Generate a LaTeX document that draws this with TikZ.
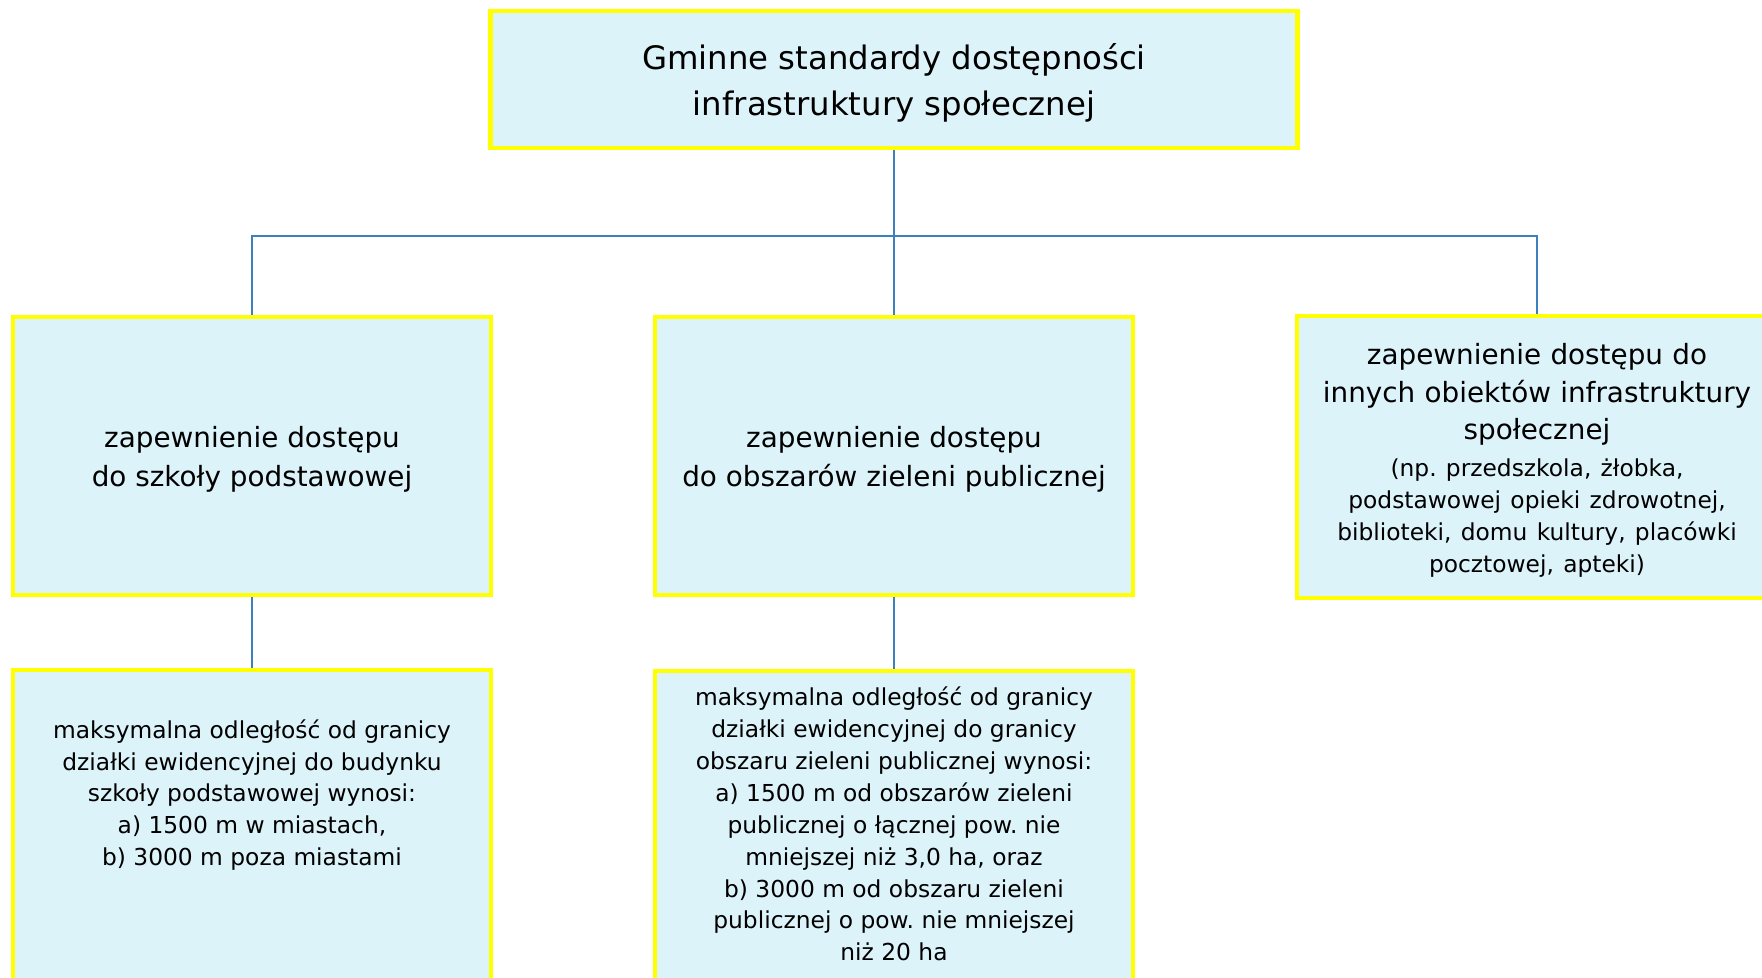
\documentclass[tikz,border=0pt]{standalone}
\usepackage{fontspec}
\setmainfont{DejaVu Sans}
\usetikzlibrary{positioning}
\definecolor{boxfill}{RGB}{221,243,250}
\definecolor{boxline}{RGB}{255,255,0}
\definecolor{linkblue}{RGB}{60,128,192}
\newcommand{\bigfont}{\fontsize{23}{32.9}\selectfont}
\newcommand{\midfont}{\fontsize{19.8}{27.7}\selectfont}
\newcommand{\smallfont}{\fontsize{16.6}{22.7}\selectfont}
\newcommand{\topstrut}[1]{\rule{0pt}{#1}}
\frenchspacing

\begin{document}
\begin{tikzpicture}[x=0.025cm, y=-0.025cm,
  box/.style={draw=boxline, line width=3.4pt, fill=boxfill, align=center, inner sep=0pt},
  link/.style={draw=linkblue, line width=1.4pt}]
  \clip (0,0) rectangle (1762,978);
  \fill[white] (0,0) rectangle (1762,978);

  \node[box, minimum width=20.175cm, minimum height=3.425cm, font=\bigfont] (gminne) at (894,79.5) {\topstrut{23.4pt}Gminne standardy dostępności\\ infrastruktury społecznej};

  \node[box, minimum width=11.95cm, minimum height=6.95cm, font=\midfont] (szkola) at (252,456) {\topstrut{20pt}zapewnienie dostępu\\ do szkoły podstawowej};
  \node[box, minimum width=11.95cm, minimum height=6.95cm, font=\midfont] (zielen) at (894,456) {\topstrut{20pt}zapewnienie dostępu\\ do obszarów zieleni publicznej};
  \node[box, minimum width=12cm, minimum height=7.05cm, text width=11cm, font=\fontsize{19.8}{26.8}\selectfont] (inne) at (1537,457) {\topstrut{20pt}zapewnienie dostępu do\\ innych obiektów infrastruktury\\ społecznej\par\vspace{3.6pt}
    \smallfont (np. przedszkola, żłobka,\\ podstawowej opieki zdrowotnej,\\ biblioteki, domu kultury, placówki\\ pocztowej, apteki)\par};

  \node[box, minimum width=11.95cm, minimum height=8.25cm] (szkolaodl) at (252,835) {};
  \node[box, minimum width=11.95cm, minimum height=8.25cm] (zielenodl) at (894,836) {};
  \node[align=center, font=\smallfont] (szkolaodltxt) at (252,795) {maksymalna odległość od granicy\\ działki ewidencyjnej do budynku\\ szkoły podstawowej wynosi:\\ a) 1500 m w miastach,\\ b) 3000 m poza miastami};
  \node[align=center, font=\smallfont] (zielenodltxt) at (894,824) {maksymalna odległość od granicy\\ działki ewidencyjnej do granicy\\ obszaru zieleni publicznej wynosi:\\ a) 1500 m od obszarów zieleni\\ publicznej o łącznej pow. nie\\ mniejszej niż 3,0 ha, oraz\\ b) 3000 m od obszaru zieleni\\ publicznej o pow. nie mniejszej\\ niż 20 ha};

  \coordinate (bus) at (894,236);
  \draw[link] (gminne) -- (zielen);
  \draw[link] (bus) -| (szkola.north);
  \draw[link] (bus) -| (inne.north);
  \draw[link] (szkola) -- (szkolaodl);
  \draw[link] (zielen) -- (zielenodl);
\end{tikzpicture}
\end{document}
